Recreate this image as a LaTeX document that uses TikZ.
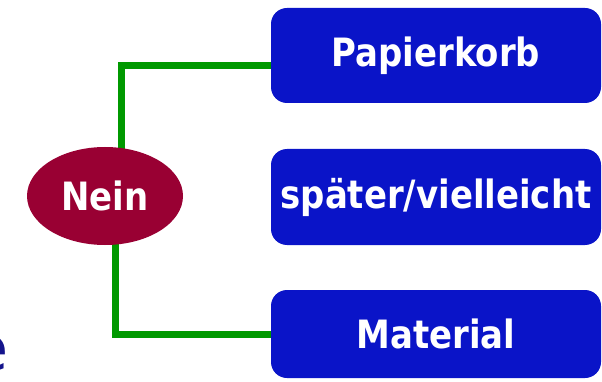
\documentclass[tikz,border=0pt]{standalone}
\usepackage{fontspec}
\setmainfont{DejaVu Sans}[FakeStretch=0.87]
\newfontfamily\efont{DejaVu Sans}
\usetikzlibrary{shapes.geometric,backgrounds}
\definecolor{boxblue}{RGB}{10,20,200}
\definecolor{neinred}{RGB}{153,0,51}
\definecolor{conngreen}{RGB}{0,153,0}
\definecolor{navytext}{RGB}{20,20,140}
\tikzset{
  optbox/.style={rectangle, rounded corners=16pt, fill=boxblue, text=white,
    minimum width=330pt, inner sep=0pt,
    font=\fontsize{39}{40}\selectfont\bfseries},
  neinnode/.style={ellipse, fill=neinred, text=white, minimum width=156pt,
    minimum height=98pt, inner sep=0pt, font=\fontsize{39}{40}\selectfont\bfseries},
  conn/.style={draw=conngreen, line width=7pt}
}
\begin{document}
\begin{tikzpicture}[x=1pt,y=-1pt]
\useasboundingbox (0,0) rectangle (602,382);
\node[neinnode] (nein) at (105,196) {Nein};
\node[optbox, minimum height=95pt] (p) at (436,55.5) {Papierkorb};
\node[optbox, minimum height=96pt] (s) at (436,197) {später/vielleicht};
\node[optbox, minimum height=88pt] (m) at (436,334) {Material};
\node[anchor=base east, inner sep=0pt, text=navytext,
  font=\efont\fontsize{62}{64}\selectfont] (e) at (9,370) {e};
\begin{scope}[on background layer]
\draw[conn] ([xshift=16pt,yshift=-5pt]nein.north) |- ([yshift=-10pt,xshift=2pt]p.west);
\draw[conn] ([xshift=10pt,yshift=5pt]nein.south) |- ([xshift=2pt]m.west);
\end{scope}
\end{tikzpicture}
\end{document}
